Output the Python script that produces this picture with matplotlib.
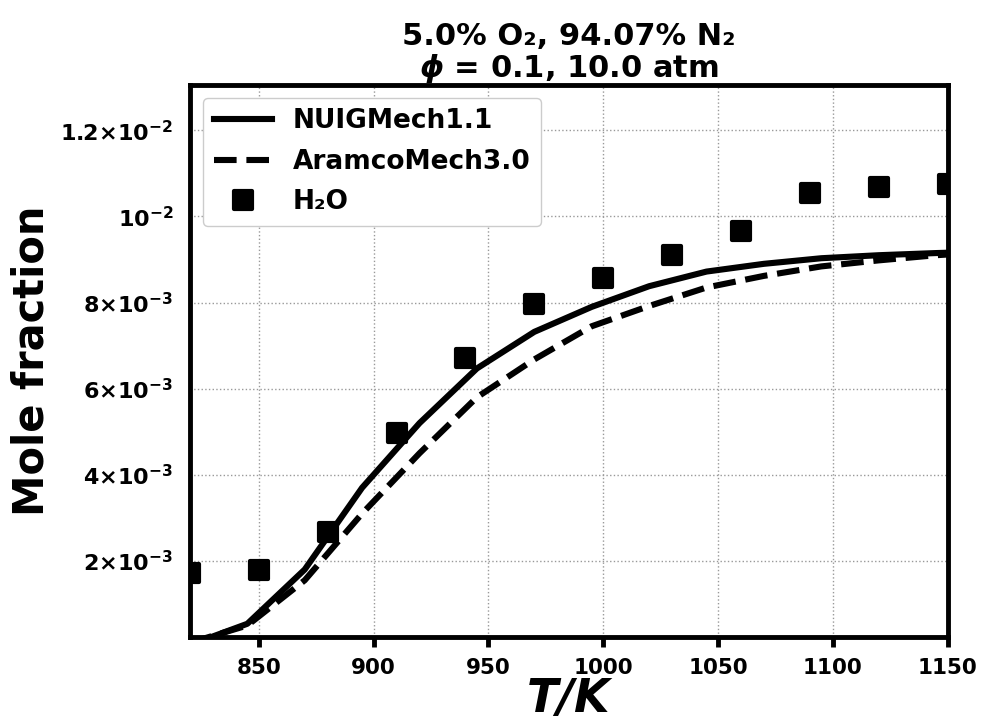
import numpy as np
import matplotlib
matplotlib.use("Agg")
import matplotlib.pyplot as plt
from matplotlib.markers import MarkerStyle
from matplotlib.ticker import FixedLocator, FixedFormatter

# -----------------------------
# Data
# -----------------------------
temp_model = [820, 845, 870, 895, 920, 945, 970, 995, 1020, 1045, 1070, 1095, 1120, 1145, 1170]

nuig_h2o = [0.05e-3, 0.54e-3, 1.80e-3, 3.70e-3, 5.20e-3, 6.47e-3, 7.32e-3, 7.90e-3,
            8.38e-3, 8.72e-3, 8.90e-3, 9.03e-3, 9.10e-3, 9.15e-3, 9.19e-3]

aramco_h2o = [0.10e-3, 0.50e-3, 1.55e-3, 3.10e-3, 4.50e-3, 5.80e-3, 6.68e-3, 7.45e-3,
              7.92e-3, 8.35e-3, 8.62e-3, 8.84e-3, 8.98e-3, 9.10e-3, 9.18e-3]

temp_exp = [820, 850, 880, 910, 940, 970, 1000, 1030, 1060, 1090, 1120, 1150]
exp_h2o = [1.73e-3, 1.80e-3, 2.66e-3, 4.97e-3, 6.71e-3, 7.97e-3, 8.57e-3,
           9.10e-3, 9.66e-3, 10.55e-3, 10.69e-3, 10.76e-3]

x_ticks = [850, 900, 950, 1000, 1050, 1100, 1150]
y_ticks = [2e-3, 4e-3, 6e-3, 8e-3, 10e-3, 12e-3]
y_tick_labels = [
    r"$\mathbf{2{\times}10^{-3}}$",
    r"$\mathbf{4{\times}10^{-3}}$",
    r"$\mathbf{6{\times}10^{-3}}$",
    r"$\mathbf{8{\times}10^{-3}}$",
    r"$\mathbf{10^{-2}}$",
    r"$\mathbf{1.2{\times}10^{-2}}$",
]

# -----------------------------
# Style
# -----------------------------
plt.rcParams["font.family"] = "DejaVu Sans"
plt.rcParams["font.weight"] = "bold"
plt.rcParams["mathtext.fontset"] = "dejavusans"
plt.rcParams["mathtext.default"] = "bf"

fig = plt.figure(figsize=(9.84, 7.24), dpi=100)
ax = fig.add_subplot(111)
fig.subplots_adjust(left=0.193, right=0.963, top=0.883, bottom=0.120)

# -----------------------------
# Plot
# -----------------------------
ax.plot(temp_model, nuig_h2o, color="black", linewidth=4.4,
        linestyle="-", label="NUIGMech1.1")
ax.plot(temp_model, aramco_h2o, color="black", linewidth=4.4,
        linestyle="--", label="AramcoMech3.0")

square = MarkerStyle("s", joinstyle="round")
ax.plot(temp_exp, exp_h2o, linestyle="none", marker=square,
        markersize=13.5, markeredgewidth=3, color="black",
        label="H\u2082O", clip_on=True)

ax.set_xlim(820, 1150)
ax.set_ylim(0.23e-3, 13.06e-3)

ax.xaxis.set_major_locator(FixedLocator(x_ticks))
ax.yaxis.set_major_locator(FixedLocator(y_ticks))
ax.yaxis.set_major_formatter(FixedFormatter(y_tick_labels))

ax.tick_params(axis="x", direction="out", length=7, width=3.5,
               labelsize=15.5, pad=8)
ax.tick_params(axis="y", length=0, labelsize=16, pad=12)
for lbl in ax.get_xticklabels():
    lbl.set_fontweight("bold")

for spine in ax.spines.values():
    spine.set_linewidth(3.5)

ax.grid(True, linestyle=":", linewidth=1.0, color="#999999")

ax.set_xlabel("T/K", fontsize=33, fontweight="bold", fontstyle="italic",
              labelpad=-1)
ax.set_ylabel("Mole fraction", fontsize=30, fontweight="bold", labelpad=6)

ax.set_title("5.0% O\u2082, 94.07% N\u2082\n"
             r"$\mathbfit{\phi}$ = 0.1, 10.0 atm",
             fontsize=22, fontweight="bold", pad=4, linespacing=1.0)

ax.legend(loc="upper left", fontsize=19, frameon=True, fancybox=True,
          edgecolor="#cccccc", framealpha=1.0, handlelength=2.2,
          borderpad=0.4, labelspacing=0.55)

plt.savefig("out.png", dpi=100)
